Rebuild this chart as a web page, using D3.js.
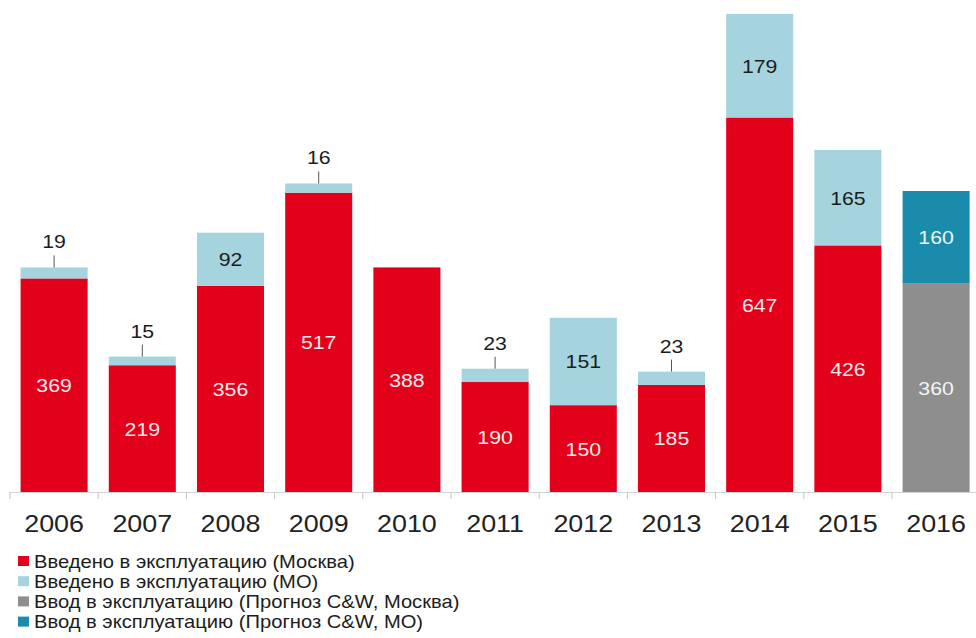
<!DOCTYPE html>
<html>
<head>
<meta charset="utf-8">
<script src="https://cdn.jsdelivr.net/npm/d3@7"></script>
<style>
  html, body { margin: 0; padding: 0; background: #ffffff; }
  svg { display: block; font-family: "Liberation Sans", Arial, sans-serif; }
</style>
</head>
<body>
<svg id="chart" width="976" height="638"></svg>
<script>
// Office space delivered per year, thousand sq. m
const years = ["2006", "2007", "2008", "2009", "2010", "2011", "2012", "2013", "2014", "2015", "2016"];
const moscow = [369, 219, 356, 517, 388, 190, 150, 185, 647, 426, null];
const mo = [19, 15, 92, 16, null, 23, 151, 23, 179, 165, null];
const forecastMoscow = [null, null, null, null, null, null, null, null, null, null, 360];
const forecastMO = [null, null, null, null, null, null, null, null, null, null, 160];

const seriesKeys = ["moscow", "mo", "fMoscow", "fMO"];
const seriesNames = [
  "Введено в эксплуатацию (Москва)",
  "Введено в эксплуатацию (МО)",
  "Ввод в эксплуатацию (Прогноз C&W, Москва)",
  "Ввод в эксплуатацию (Прогноз C&W, МО)"
];
const colors = { moscow: "#e2001a", mo: "#a6d4de", fMoscow: "#8e8e8e", fMO: "#1a8bab" };
const labelColors = { moscow: "#fbeaea", mo: "#1c1c1c", fMoscow: "#f4f4f4", fMO: "#eef6f9" };

const rows = years.map((y, i) => ({
  year: y,
  moscow: moscow[i] || 0,
  mo: mo[i] || 0,
  fMoscow: forecastMoscow[i] || 0,
  fMO: forecastMO[i] || 0
}));

const svg = d3.select("#chart");
const baseY = 492;
const sx = 1.12; // glyph widening applied to all text

const x = d3.scaleBand().domain(years).range([10, 980.2]).paddingInner(0.24).paddingOuter(0.12);
const y = d3.scaleLinear().domain([0, 850]).range([baseY, 0]);

const stacked = d3.stack().keys(seriesKeys)(rows);

// bars
const layers = svg.append("g").selectAll("g").data(stacked).join("g")
  .attr("fill", d => colors[d.key]);
layers.selectAll("rect").data(d => d.map(p => ({ p, key: d.key })))
  .join("rect")
  .filter(d => d.p[1] - d.p[0] > 0)
  .attr("x", d => x(d.p.data.year))
  .attr("width", x.bandwidth())
  .attr("y", d => y(d.p[1]))
  .attr("height", d => y(d.p[0]) - y(d.p[1]));

function addText(g, tx, ty, str, size, fill, anchor) {
  return g.append("text")
    .attr("transform", `translate(${tx},${ty}) scale(${sx},1)`)
    .attr("text-anchor", anchor || "middle")
    .attr("font-size", size)
    .attr("fill", fill)
    .text(str);
}

// axis: baseline with ticks at band boundaries
const axisG = svg.append("g");
const step = x.step();
const edges = d3.range(years.length + 1).map(i => x(years[0]) - (step - x.bandwidth()) / 2 + i * step);
axisG.append("line")
  .attr("x1", edges[0]).attr("x2", edges[edges.length - 1])
  .attr("y1", baseY + 0.5).attr("y2", baseY + 0.5)
  .attr("stroke", "#d2d2d2").attr("stroke-width", 1);
axisG.selectAll("line.tick").data(edges).join("line")
  .attr("class", "tick")
  .attr("x1", d => d).attr("x2", d => d)
  .attr("y1", baseY).attr("y2", baseY + 7)
  .attr("stroke", "#c4c4c4").attr("stroke-width", 1);

// year labels
const yearG = svg.append("g");
years.forEach(yr => addText(yearG, x(yr) + x.bandwidth() / 2, 532, yr, 24, "#222222"));

// value labels
const labelG = svg.append("g");
stacked.forEach(layer => {
  layer.forEach(p => {
    const v = p[1] - p[0];
    if (v <= 0) return;
    const cx = x(p.data.year) + x.bandwidth() / 2;
    if (layer.key === "mo" && v < 40) {
      const top = y(p[1]);
      labelG.append("line")
        .attr("x1", cx).attr("x2", cx)
        .attr("y1", top - 12).attr("y2", top)
        .attr("stroke", "#555555").attr("stroke-width", 1);
      addText(labelG, cx, top - 19, String(v), 19, "#1c1c1c");
    } else {
      const mid = (y(p[0]) + y(p[1])) / 2;
      addText(labelG, cx, mid + 7, String(v), 19, labelColors[layer.key]);
    }
  });
});

// legend
const legendG = svg.append("g");
seriesKeys.forEach((k, i) => {
  const ly = 561 + i * 20.2;
  legendG.append("rect")
    .attr("x", 18).attr("y", ly - 5).attr("width", 11).attr("height", 10)
    .attr("fill", colors[k]);
  addText(legendG, 34, ly + 6.5, seriesNames[i], 18, "#1c1c1c", "start");
});
</script>
</body>
</html>
